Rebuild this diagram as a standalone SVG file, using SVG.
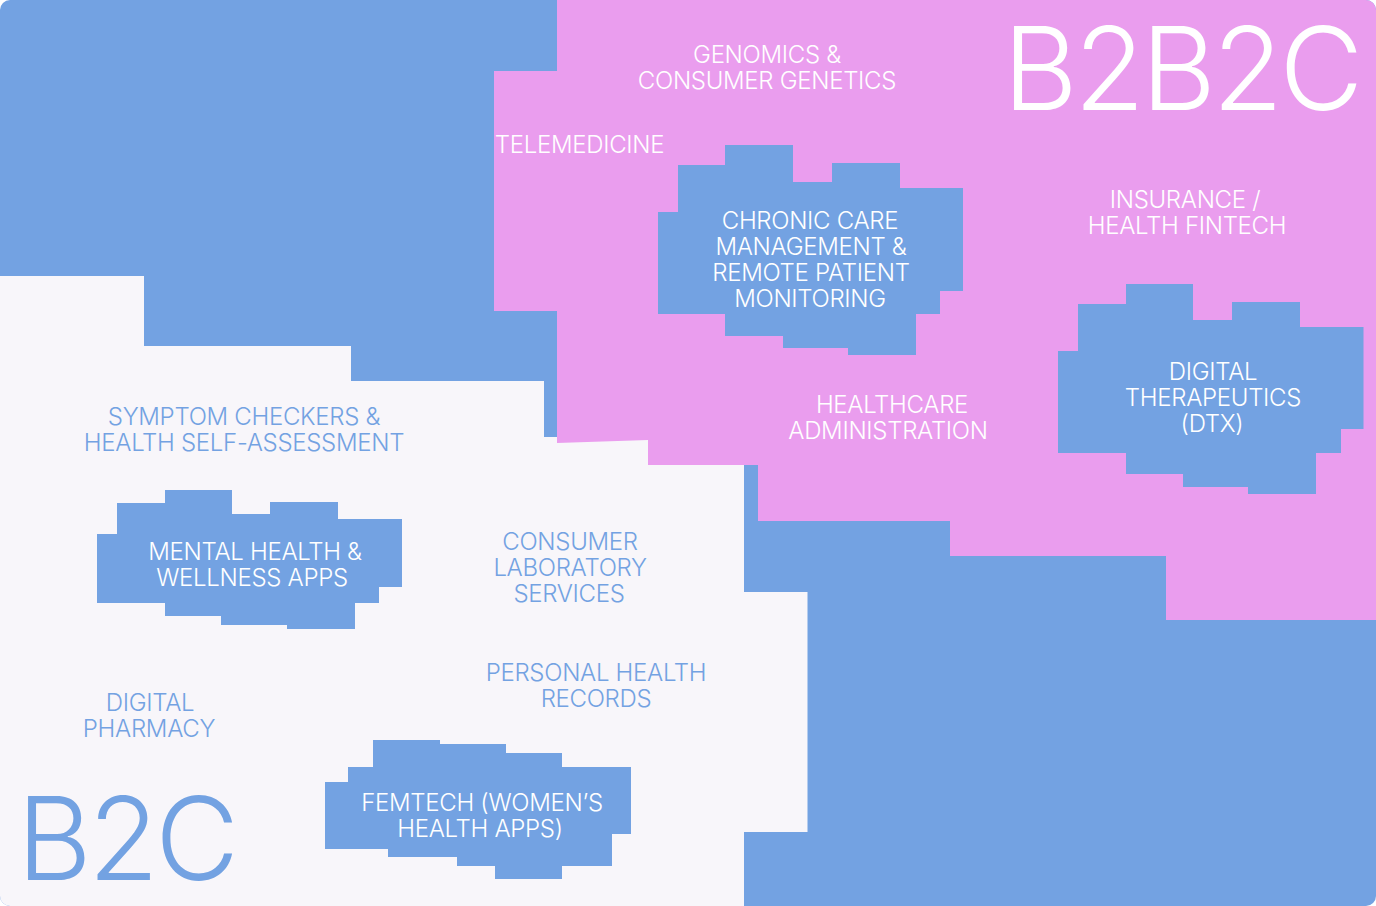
<svg xmlns="http://www.w3.org/2000/svg" width="1376" height="906" viewBox="0 0 1376 906">
  <defs>
    <clipPath id="frame"><rect x="0" y="0" width="1376" height="906" rx="10" ry="10"/></clipPath>
    <style>
      .blue{fill:#73A2E2}
      .pink{fill:#EA9DEE}
      .paper{fill:#F8F6FA}
      .lbl{font-family:Inter,"Noto Sans","Liberation Sans",sans-serif;font-size:24px;font-weight:300;text-anchor:middle;letter-spacing:-0.3px}
      .w{fill:#FFFFFF}
      .b{fill:#73A2E2}
      .big{font-family:Inter,"Noto Sans","Liberation Sans",sans-serif;font-size:115px;font-weight:300;letter-spacing:-3.5px}
    </style>
  </defs>
  <rect x="0" y="0" width="1376" height="906" fill="#FFFFFF"/>
  <g clip-path="url(#frame)">
    <g id="regions">
      <rect class="blue" x="0" y="0" width="1376" height="906"/>
      <path id="region-b2c" class="paper" d="M0,276 H144 V346 H351 V381 H544 V437 H648 V465 H744 V592 H807.5 V832 H744 V906 H0 Z"/>
      <path id="region-b2b2c" class="pink" d="M557,0 H1376 V620 H1166 V556 H950 V521 H758 V465 H648 V440 L557,443 V311 H494 V71 H557 Z"/>
    </g>
    <g id="connectors"/>
    <g id="nodes">
      <g id="title-b2b2c">
        <text class="big w" x="1003" y="110">B2B2C</text>
      </g>
      <g id="title-b2c">
        <text class="big b" x="17" y="880">B2C</text>
      </g>
      <g id="genomics">
        <text class="lbl w" x="767" y="63">GENOMICS &amp;</text>
        <text class="lbl w" x="767" y="89">CONSUMER GENETICS</text>
      </g>
      <g id="telemedicine">
        <text class="lbl w" x="579.5" y="153">TELEMEDICINE</text>
      </g>
      <g id="chronic-care">
        <path class="blue" d="M725,145 H793 V182 H832 V163 H900 V188 H963 V291 H940 V314 H916 V355 H848 V348 H783 V336 H725 V314 H658 V212 H678 V165 H725 Z"/>
        <text class="lbl w" x="810" y="229">CHRONIC CARE</text>
        <text class="lbl w" x="811" y="255">MANAGEMENT &amp;</text>
        <text class="lbl w" x="811" y="281">REMOTE PATIENT</text>
        <text class="lbl w" x="810" y="307">MONITORING</text>
      </g>
      <g id="insurance">
        <text class="lbl w" x="1185" y="208">INSURANCE /</text>
        <text class="lbl w" x="1187" y="234">HEALTH FINTECH</text>
      </g>
      <g id="healthcare-admin">
        <text class="lbl w" x="892" y="413">HEALTHCARE</text>
        <text class="lbl w" x="888" y="439">ADMINISTRATION</text>
      </g>
      <g id="dtx">
        <path class="blue" d="M1126,284 H1193 V320 H1232 V302 H1300 V327 H1363.5 V429 H1341 V453 H1316 V494 H1248 V487 H1183 V474 H1126 V453 H1058 V351 H1078 V304 H1126 Z"/>
        <text class="lbl w" x="1213" y="380">DIGITAL</text>
        <text class="lbl w" x="1213" y="406">THERAPEUTICS</text>
        <text class="lbl w" x="1212" y="432">(DTX)</text>
      </g>
      <g id="symptom-checkers">
        <text class="lbl b" x="244" y="425">SYMPTOM CHECKERS &amp;</text>
        <text class="lbl b" x="244" y="451">HEALTH SELF-ASSESSMENT</text>
      </g>
      <g id="mental-health">
        <path class="blue" d="M165,490 H232 V514 H270 V502 H338 V519 H402 V587 H379 V603 H355 V629 H287 V625 H221 V616 H165 V603 H97 V534 H117 V503 H165 Z"/>
        <text class="lbl w" x="255" y="560">MENTAL HEALTH &amp;</text>
        <text class="lbl w" x="252" y="586">WELLNESS APPS</text>
      </g>
      <g id="consumer-lab">
        <text class="lbl b" x="570" y="550">CONSUMER</text>
        <text class="lbl b" x="570" y="576">LABORATORY</text>
        <text class="lbl b" x="569" y="602">SERVICES</text>
      </g>
      <g id="personal-health-records">
        <text class="lbl b" x="596" y="681">PERSONAL HEALTH</text>
        <text class="lbl b" x="596" y="707">RECORDS</text>
      </g>
      <g id="digital-pharmacy">
        <text class="lbl b" x="150" y="711">DIGITAL</text>
        <text class="lbl b" x="149" y="737">PHARMACY</text>
      </g>
      <g id="femtech">
        <path class="blue" d="M373,740 H440 V744 H506 V753 H562 V767 H631 V834 H612 V866 H562 V879 H495 V866 H457 V857 H388 V849 H325 V782 H348 V767 H373 Z"/>
        <text class="lbl w" x="482" y="811">FEMTECH (WOMEN’S</text>
        <text class="lbl w" x="480" y="837">HEALTH APPS)</text>
      </g>
    </g>
  </g>
</svg>
